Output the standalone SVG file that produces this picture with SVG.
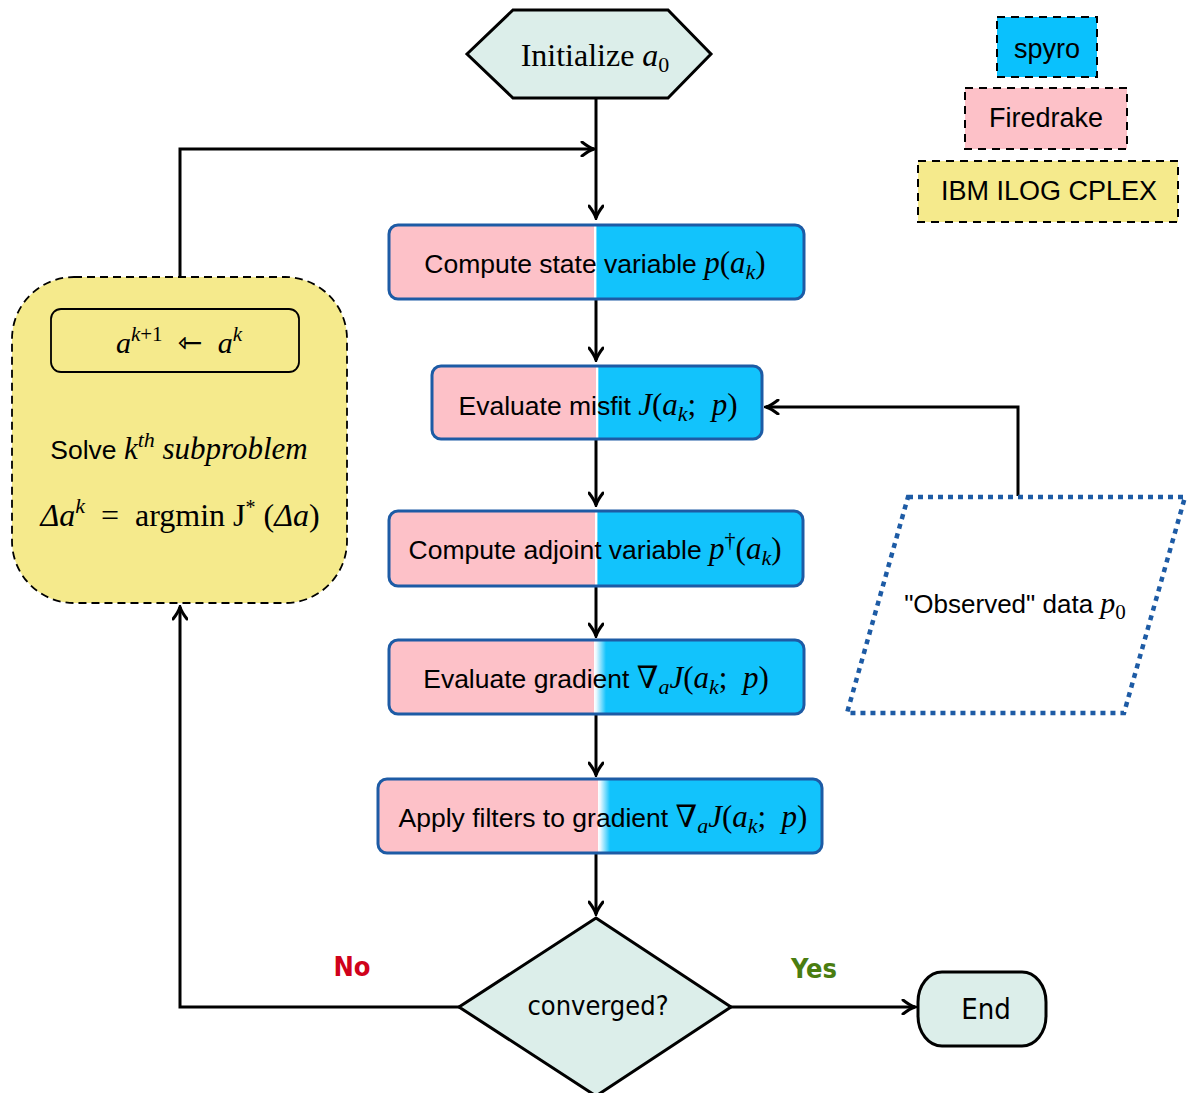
<svg xmlns="http://www.w3.org/2000/svg" width="1188" height="1093" viewBox="0 0 1188 1093">
<style>
.sans{font-family:"Liberation Sans",Arial,sans-serif;fill:#000}
.serif{font-family:"Liberation Serif","DejaVu Serif",serif;fill:#000}
.it{font-style:italic}
.narrow{font-family:"Liberation Sans Narrow","DejaVu Sans Condensed","Liberation Sans",sans-serif}
.proc{stroke:#1d5ba5;stroke-width:3}
.conn{fill:none;stroke:#000;stroke-width:3}
.term{fill:#dceeea;stroke:#000;stroke-width:3}
.leg{stroke:#000;stroke-width:2;stroke-dasharray:8 6}
</style>
<defs>
<marker id="arr" viewBox="-14 -8 16 16" markerWidth="16" markerHeight="16" refX="0" refY="0" orient="auto" markerUnits="userSpaceOnUse">
<path d="M-12,-7 Q-5,-1.5 0,0 Q-5,1.5 -12,7" fill="none" stroke="#000" stroke-width="3" stroke-linecap="round"/>
</marker>
<linearGradient id="g1" gradientUnits="userSpaceOnUse" x1="594" y1="0" x2="597" y2="0"><stop offset="0" stop-color="#fdc1c8"/><stop offset="0.01" stop-color="#ffffff"/><stop offset="0.6" stop-color="#ffffff"/><stop offset="1" stop-color="#12c3fc"/></linearGradient>
<linearGradient id="g2" gradientUnits="userSpaceOnUse" x1="596" y1="0" x2="599" y2="0"><stop offset="0" stop-color="#fdc1c8"/><stop offset="0.01" stop-color="#ffffff"/><stop offset="0.5" stop-color="#ffffff"/><stop offset="1" stop-color="#12c3fc"/></linearGradient>
<linearGradient id="g3" gradientUnits="userSpaceOnUse" x1="595" y1="0" x2="598" y2="0"><stop offset="0" stop-color="#fdc1c8"/><stop offset="0.01" stop-color="#ffffff"/><stop offset="0.6" stop-color="#ffffff"/><stop offset="1" stop-color="#12c3fc"/></linearGradient>
<linearGradient id="g4" gradientUnits="userSpaceOnUse" x1="594" y1="0" x2="606" y2="0"><stop offset="0" stop-color="#fdc1c8"/><stop offset="0.01" stop-color="#ffffff"/><stop offset="0.2" stop-color="#e8f8ff"/><stop offset="1" stop-color="#12c3fc"/></linearGradient>
<linearGradient id="g5" gradientUnits="userSpaceOnUse" x1="598" y1="0" x2="610" y2="0"><stop offset="0" stop-color="#fdc1c8"/><stop offset="0.01" stop-color="#ffffff"/><stop offset="0.2" stop-color="#e8f8ff"/><stop offset="1" stop-color="#12c3fc"/></linearGradient>
</defs>
<rect width="1188" height="1093" fill="#fff"/>

<g id="connectors">
<line class="conn" x1="596" y1="98" x2="596" y2="218" marker-end="url(#arr)"/>
<polyline class="conn" points="180,277 180,149 594,149" marker-end="url(#arr)"/>
<line class="conn" x1="596" y1="300" x2="596" y2="360" marker-end="url(#arr)"/>
<line class="conn" x1="596" y1="440" x2="596" y2="505" marker-end="url(#arr)"/>
<line class="conn" x1="596" y1="586" x2="596" y2="636" marker-end="url(#arr)"/>
<line class="conn" x1="596" y1="715" x2="596" y2="775" marker-end="url(#arr)"/>
<line class="conn" x1="596" y1="854" x2="596" y2="914" marker-end="url(#arr)"/>
<polyline class="conn" points="1018,496 1018,407 766,407" marker-end="url(#arr)"/>
<polyline class="conn" points="459,1007 180,1007 180,607" marker-end="url(#arr)"/>
<line class="conn" x1="731" y1="1007" x2="915" y2="1007" marker-end="url(#arr)"/>
<text class="narrow" x="352" y="976" font-size="27" font-weight="bold" text-anchor="middle" style="fill:#d0021b">No</text>
<text class="narrow" x="814" y="978" font-size="27" font-weight="bold" text-anchor="middle" style="fill:#4a7d10">Yes</text>
</g>

<g id="init">
<polygon class="term" points="467,54 513,10 668,10 711,54 668,98 513,98"/>
<text class="serif" x="595" y="66" font-size="32" text-anchor="middle">Initialize <tspan class="it">a</tspan><tspan font-size="22" dy="6">0</tspan></text>
</g>

<g id="legend-spyro">
<rect class="leg" x="997" y="17" width="100" height="60" fill="#0ac1fd"/>
<text class="sans" x="1047" y="58" font-size="27" text-anchor="middle">spyro</text>
</g>
<g id="legend-firedrake">
<rect class="leg" x="965" y="88" width="162" height="61" fill="#fdc1c8"/>
<text class="sans" x="1046" y="127" font-size="27" text-anchor="middle">Firedrake</text>
</g>
<g id="legend-cplex">
<rect class="leg" x="918" y="161" width="260" height="61" fill="#f5ea8c"/>
<text class="sans" x="1049" y="200" font-size="27" text-anchor="middle">IBM ILOG CPLEX</text>
</g>

<g id="compute-state">
<rect class="proc" x="389" y="225" width="415" height="74" rx="9" fill="url(#g1)"/>
<text class="sans" x="595" y="273" font-size="26.5" text-anchor="middle">Compute state variable <tspan class="serif it" font-size="31">p</tspan><tspan class="serif" font-size="31">(</tspan><tspan class="serif it" font-size="31">a</tspan><tspan class="serif it" font-size="22" dy="6">k</tspan><tspan class="serif" font-size="31" dy="-6">)</tspan></text>
</g>

<g id="evaluate-misfit">
<rect class="proc" x="432" y="366" width="330" height="73" rx="9" fill="url(#g2)"/>
<text class="sans" x="598" y="415" font-size="26.5" text-anchor="middle">Evaluate misfit <tspan class="serif it" font-size="31">J</tspan><tspan class="serif" font-size="31">(</tspan><tspan class="serif it" font-size="31">a</tspan><tspan class="serif it" font-size="22" dy="6">k</tspan><tspan class="serif" font-size="31" dy="-6">;&#160;&#160;</tspan><tspan class="serif it" font-size="31">p</tspan><tspan class="serif" font-size="31">)</tspan></text>
</g>

<g id="compute-adjoint">
<rect class="proc" x="389" y="511" width="414" height="75" rx="9" fill="url(#g3)"/>
<text class="sans" x="595" y="559" font-size="26.5" text-anchor="middle">Compute adjoint variable <tspan class="serif it" font-size="31">p</tspan><tspan class="serif" font-size="22" dy="-12">†</tspan><tspan class="serif" font-size="31" dy="12">(</tspan><tspan class="serif it" font-size="31">a</tspan><tspan class="serif it" font-size="22" dy="6">k</tspan><tspan class="serif" font-size="31" dy="-6">)</tspan></text>
</g>

<g id="evaluate-gradient">
<rect class="proc" x="389" y="640" width="415" height="74" rx="9" fill="url(#g4)"/>
<text class="sans" x="596" y="688" font-size="26.5" text-anchor="middle">Evaluate gradient <tspan class="serif it" font-size="31">∇</tspan><tspan class="serif it" font-size="22" dy="6">a</tspan><tspan class="serif it" font-size="31" dy="-6">J</tspan><tspan class="serif" font-size="31">(</tspan><tspan class="serif it" font-size="31">a</tspan><tspan class="serif it" font-size="22" dy="6">k</tspan><tspan class="serif" font-size="31" dy="-6">;&#160;&#160;</tspan><tspan class="serif it" font-size="31">p</tspan><tspan class="serif" font-size="31">)</tspan></text>
</g>

<g id="apply-filters">
<rect class="proc" x="378" y="779" width="444" height="74" rx="9" fill="url(#g5)"/>
<text class="sans" x="603" y="827" font-size="26.5" text-anchor="middle">Apply filters to gradient <tspan class="serif it" font-size="31">∇</tspan><tspan class="serif it" font-size="22" dy="6">a</tspan><tspan class="serif it" font-size="31" dy="-6">J</tspan><tspan class="serif" font-size="31">(</tspan><tspan class="serif it" font-size="31">a</tspan><tspan class="serif it" font-size="22" dy="6">k</tspan><tspan class="serif" font-size="31" dy="-6">;&#160;&#160;</tspan><tspan class="serif it" font-size="31">p</tspan><tspan class="serif" font-size="31">)</tspan></text>
</g>

<g id="observed-data">
<polygon points="908,497 1185,497 1124,713 847,713" fill="#fff" stroke="#1d5ba5" stroke-width="4.5" stroke-dasharray="5 5"/>
<text class="sans" x="1015" y="613" font-size="26" text-anchor="middle">"Observed" data <tspan class="serif it" font-size="30">p</tspan><tspan class="serif" font-size="21" dy="6">0</tspan></text>
</g>

<g id="solve-subproblem">
<rect x="12" y="277" width="335" height="326" rx="62" fill="#f5ea8c" stroke="#000" stroke-width="1.8" stroke-dasharray="8 5"/>
<rect x="51" y="309" width="248" height="63" rx="10" fill="none" stroke="#000" stroke-width="1.8"/>
<text class="serif" x="179" y="353" font-size="30" text-anchor="middle"><tspan class="it">a</tspan><tspan class="it" font-size="21" dy="-12">k</tspan><tspan font-size="21">+1</tspan><tspan dy="12">&#160;&#160;⇽&#160;&#160;</tspan><tspan class="it">a</tspan><tspan class="it" font-size="21" dy="-12">k</tspan></text>
<text x="179" y="459" font-size="24" text-anchor="middle"><tspan class="sans" font-size="26.5">Solve </tspan><tspan class="serif it" font-size="31">k</tspan><tspan class="serif it" font-size="22" dy="-12">th</tspan><tspan class="serif it" font-size="31" dy="12">&#160;subproblem</tspan></text>
<text class="serif" x="180" y="526" font-size="32" text-anchor="middle"><tspan class="it">Δa</tspan><tspan class="it" font-size="22" dy="-13">k</tspan><tspan dy="13">&#160;&#160;=&#160;&#160;argmin J</tspan><tspan font-size="20" dy="-12">*</tspan><tspan dy="12">&#160;(</tspan><tspan class="it">Δa</tspan><tspan>)</tspan></text>
</g>

<g id="converged">
<polygon class="term" points="596,918 731,1007 596,1096 459,1007"/>
<text class="narrow" x="598" y="1015" font-size="27" text-anchor="middle">converged?</text>
</g>

<g id="end">
<rect class="term" x="918" y="972" width="128" height="74" rx="24" ry="30"/>
<text class="narrow" x="986" y="1019" font-size="29" text-anchor="middle">End</text>
</g>
</svg>
